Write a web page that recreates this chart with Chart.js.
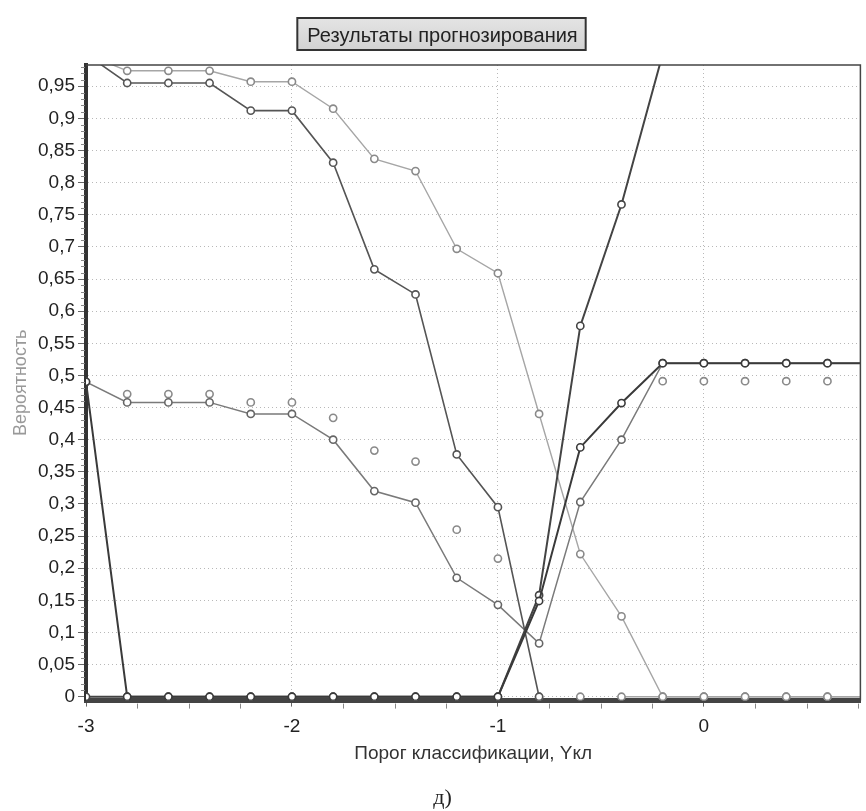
<!DOCTYPE html>
<html><head><meta charset="utf-8">
<script src="https://cdn.jsdelivr.net/npm/chart.js@4.4.1/dist/chart.umd.min.js"></script>
<style>html,body{margin:0;padding:0;background:#fff;}#wrap{width:866px;height:811px;}</style>
</head><body><div id="wrap"><canvas id="c" width="866" height="811"></canvas></div>
<script>
// x = порог классификации
const thresholds = [-3,-2.8,-2.6,-2.4,-2.2,-2,-1.8,-1.6,-1.4,-1.2,-1,-0.8,-0.6,-0.4,-0.2,0,0.2,0.4,0.6,0.8];
const seriesA = [1.0,0.955,0.955,0.955,0.912,0.912,0.831,0.665,0.626,0.377,0.295,0,null,null,null,null,null,null,null,null];
const seriesB = [1.0,0.974,0.974,0.974,0.957,0.957,0.915,0.837,0.818,0.697,0.659,0.44,0.222,0.125,0,0,0,0,0,0];
const seriesC = [0,0,0,0,0,0,0,0,0,0,0,0.158,0.577,0.766,1.0,1.0,1.0,1.0,1.0,1.0];
const seriesF = [0.49,0,0,0,0,0,0,0,0,0,0,0.149,0.388,0.457,0.519,0.519,0.519,0.519,0.519,0.519];
const seriesD = [0.49,0.458,0.458,0.458,0.44,0.44,0.40,0.32,0.302,0.185,0.143,0.083,0.303,0.40,0.519,0.519,0.519,0.519,0.519,0.519];
const seriesE = [null,0.471,0.471,0.471,0.458,0.458,0.434,0.383,0.366,0.26,0.215,0,0,null,0.491,0.491,0.491,0.491,0.491,null];
const seriesK = [null,null,null,null,null,null,null,null,null,null,null,null,null,0,0,0,0,0,0,0];
const xTickValues = [-3,-2,-1,0];
const yTickValues = [0,0.05,0.1,0.15,0.2,0.25,0.3,0.35,0.4,0.45,0.5,0.55,0.6,0.65,0.7,0.75,0.8,0.85,0.9,0.95];
const xMinorStep = 0.25, yMinorStep = 0.01;

const FONT = 'Liberation Sans, Arial, sans-serif';
function pts(arr){ return thresholds.map((x,i)=>({x:x, y:arr[i]})); }
function ds(arr, color, width, showLine, ptColor){
  return {data: pts(arr), borderColor: color, borderWidth: width, showLine: showLine,
    pointRadius: 3.6, pointBorderWidth: 1.6, pointBorderColor: ptColor || color,
    pointBackgroundColor: '#fff', tension: 0, spanGaps: false, fill: false};
}

const titleBox = {
  id: 'titleBox',
  beforeDraw(chart){
    const tb = chart.titleBlock; if(!tb) return;
    const ctx = chart.ctx;
    const o = tb.options;
    ctx.save();
    ctx.font = o.font.size + 'px ' + o.font.family;
    const w = ctx.measureText(o.text).width;
    const cx = (tb.left + tb.right)/2;
    const x0 = cx - w/2 - 10, x1 = cx + w/2 + 8;
    const y0 = 18, y1 = 50;
    const g = ctx.createLinearGradient(0,y0,0,y1);
    g.addColorStop(0,'#e4e4e4'); g.addColorStop(1,'#d2d2d2');
    ctx.fillStyle = g; ctx.fillRect(x0,y0,x1-x0,y1-y0);
    ctx.strokeStyle = '#333'; ctx.lineWidth = 2;
    ctx.strokeRect(x0,y0,x1-x0,y1-y0);
    ctx.restore();
  }
};
const frame = {
  id: 'frame',
  afterDraw(chart){
    const {ctx, chartArea:a, scales} = chart;
    ctx.save();
    ctx.strokeStyle = '#444'; ctx.lineWidth = 1.5;
    ctx.beginPath(); ctx.moveTo(a.left, a.top); ctx.lineTo(a.right, a.top); ctx.lineTo(a.right, a.bottom); ctx.stroke();
    ctx.strokeStyle = '#888'; ctx.lineWidth = 1;
    const ys = scales.y;
    for (let k = 1; k < 99; k++){
      if (k % 5 === 0) continue;
      const py = Math.round(ys.getPixelForValue(k*yMinorStep)) + 0.5;
      if (py < a.top) continue;
      ctx.beginPath(); ctx.moveTo(a.left-5, py); ctx.lineTo(a.left-1, py); ctx.stroke();
    }
    const xs = scales.x;
    for (let k = 1; k < 16; k++){
      const v = -3 + k*xMinorStep;
      if (Number.isInteger(v)) continue;
      const px = Math.round(xs.getPixelForValue(v)) + 0.5;
      if (px > a.right) continue;
      ctx.beginPath(); ctx.moveTo(px, a.bottom+3); ctx.lineTo(px, a.bottom+8); ctx.stroke();
    }
    ctx.restore();
  }
};

new Chart(document.getElementById('c'), {
  type: 'line',
  data: { datasets: [
    ds(seriesF, '#3a3a3a', 2, true, '#3a3a3a'),
    ds(seriesC, '#444', 2, true, '#444'),
    ds(seriesA, '#555', 1.6, true, '#555'),
    ds(seriesD, '#7a7a7a', 1.5, true, '#666'),
    ds(seriesB, '#a6a6a6', 1.4, true, '#8a8a8a'),
    ds(seriesE, '#999', 1.4, false, '#8a8a8a'),
    ds(seriesK, '#a6a6a6', 1.4, true, '#8a8a8a')
  ]},
  options: {
    responsive: false, animation: false,
    layout: { padding: { left: 22, right: 3, top: 0, bottom: 0 } },
    plugins: {
      legend: { display: false }, tooltip: { enabled: false },
      title: { display: true, text: 'Результаты прогнозирования', color: '#222',
        font: { family: FONT, size: 20, weight: 'normal' }, padding: { top: 24, bottom: 17 } },
      subtitle: { display: true, position: 'bottom', text: 'д)', color: '#222',
        font: { family: 'Liberation Serif, serif', size: 22, weight: 'normal' }, padding: { top: 0, bottom: 0 } }
    },
    scales: {
      x: {
        type: 'linear', min: -3, max: 0.76,
        afterBuildTicks: ax => { ax.ticks = xTickValues.map(v => ({ value: v })); },
        afterFit: ax => { ax.height = 84; },
        ticks: { color: '#222', font: { family: FONT, size: 19 }, padding: 9, maxRotation: 0,
          callback: v => String(v) },
        grid: { color: '#b8b8b8', lineWidth: 1, drawTicks: true, tickLength: 6, tickColor: '#666', tickWidth: 1 },
        border: { display: true, color: '#444', width: 5, dash: [1, 3] },
        title: { display: true, text: 'Порог классификации, Yкл', color: '#333',
          font: { family: FONT, size: 19 }, padding: { top: 0, bottom: 19 } }
      },
      y: {
        type: 'linear', min: -0.006, max: 0.983,
        afterBuildTicks: ax => { ax.ticks = yTickValues.map(v => ({ value: v })); },
        afterFit: ax => { ax.width = 64; },
        ticks: { color: '#222', font: { family: FONT, size: 19 }, padding: 3,
          callback: v => String(Math.round(v*100)/100).replace('.', ',') },
        grid: { color: '#b8b8b8', lineWidth: 1, drawTicks: true, tickLength: 8, tickColor: '#666', tickWidth: 1 },
        border: { display: true, color: '#333', width: 4, dash: [1, 3] },
        title: { display: true, text: 'Вероятность', color: '#999',
          font: { family: FONT, size: 18 }, padding: { top: -12, bottom: 0 } }
      }
    }
  },
  plugins: [titleBox, frame]
});
</script></body></html>
